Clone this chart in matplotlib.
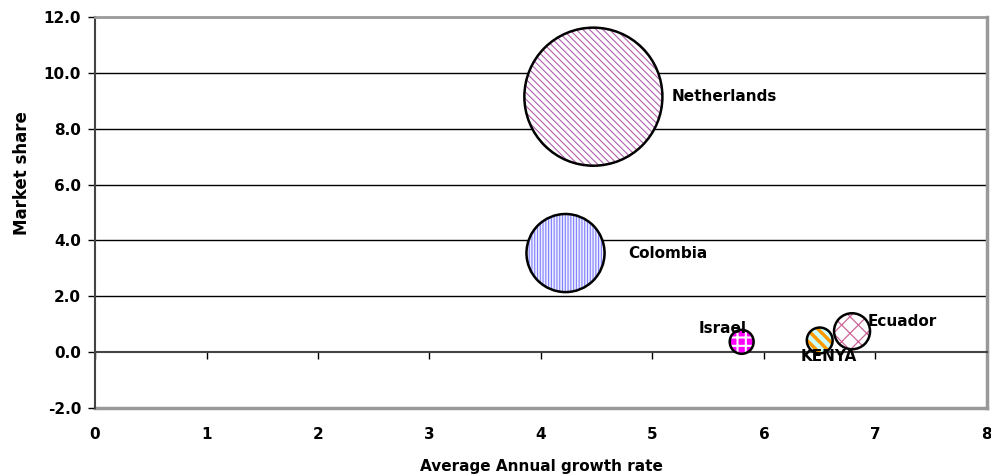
import matplotlib
matplotlib.use('Agg')
import matplotlib.pyplot as plt

plt.rcParams['font.family'] = ['DejaVu Sans']
plt.rcParams['hatch.linewidth'] = 1.0

# data
countries = ["Netherlands", "Colombia", "Israel", "KENYA", "Ecuador"]
growth = [4.47, 4.22, 5.80, 6.50, 6.79]
share = [9.15, 3.55, 0.37, 0.42, 0.75]
bubble = [100, 32, 3.0, 3.5, 6.8]

face_colors = ["white", "#eeeeff", "#ff00ff", "#ccffff", "white"]
hatch_colors = ["#b060b0", "#8080ff", "white", "#ff9900", "#cc6699"]
hatches = ["\\\\\\\\\\", "||||||", "++", "\\\\\\", "xx"]
hatch_widths = [0.8, 0.8, 1.5, 2.5, 0.9]

# label positions (data units)
label_x = [5.17, 4.78, 5.63, 6.58, 6.93]
label_y = [9.15, 3.55, 0.85, -0.15, 1.1]
label_ha = ["left", "left", "center", "center", "left"]

fig = plt.figure(figsize=(9.91, 4.75), dpi=100)
ax = fig.add_axes([0.0959, 0.141, 0.9, 0.823])

scale = 98.8
for i in range(len(countries)):
    sc = ax.scatter(growth[i], share[i], s=bubble[i] * scale, facecolor=face_colors[i],
                    edgecolor=hatch_colors[i], hatch=hatches[i], linewidth=0, zorder=3)
    if hasattr(sc, 'set_hatch_linewidth'):
        sc.set_hatch_linewidth(hatch_widths[i])
    ax.scatter(growth[i], share[i], s=bubble[i] * scale, facecolor="none",
               edgecolor="black", linewidth=1.8, zorder=4)
    ax.text(label_x[i], label_y[i], countries[i], ha=label_ha[i], va="center",
            fontsize=11, fontweight="bold", zorder=5)

ax.set_xlim(0, 8)
ax.set_ylim(-2, 12)
ax.set_yticks(range(-2, 13, 2))
ax.set_yticklabels([f"{v:.1f}" for v in range(-2, 13, 2)])
ax.set_xticks(range(0, 9))
ax.tick_params(axis='y', direction='out', length=5, width=1, labelsize=11, pad=5)
ax.tick_params(axis='x', direction='out', length=5, width=1, labelbottom=False)
for lbl in ax.get_yticklabels():
    lbl.set_fontweight('bold')

# horizontal gridlines
for v in range(2, 12, 2):
    ax.axhline(v, color="black", linewidth=1, zorder=1)

ax.spines['bottom'].set_position(('data', 0))
ax.spines['bottom'].set_color('#444444')
ax.spines['bottom'].set_linewidth(1.5)
ax.spines['left'].set_color('#444444')
ax.spines['left'].set_linewidth(1.5)
ax.spines['top'].set_color('#999999')
ax.spines['top'].set_linewidth(2)
ax.spines['right'].set_color('#999999')
ax.spines['right'].set_linewidth(2.5)

sec = ax.secondary_xaxis('bottom')
sec.set_xticks(range(0, 9))
sec.tick_params(length=0, labelsize=11, pad=14)
for lbl in sec.get_xticklabels():
    lbl.set_fontweight('bold')
sec.spines['bottom'].set_color('#999999')
sec.spines['bottom'].set_linewidth(2.5)
sec.set_xlabel("Average Annual growth rate", fontsize=11, fontweight="bold", labelpad=12)

ax.set_ylabel("Market share", fontsize=12, fontweight="bold")
ax.yaxis.set_label_coords(-0.072, 0.6)

fig.savefig("out.png", dpi=100)
